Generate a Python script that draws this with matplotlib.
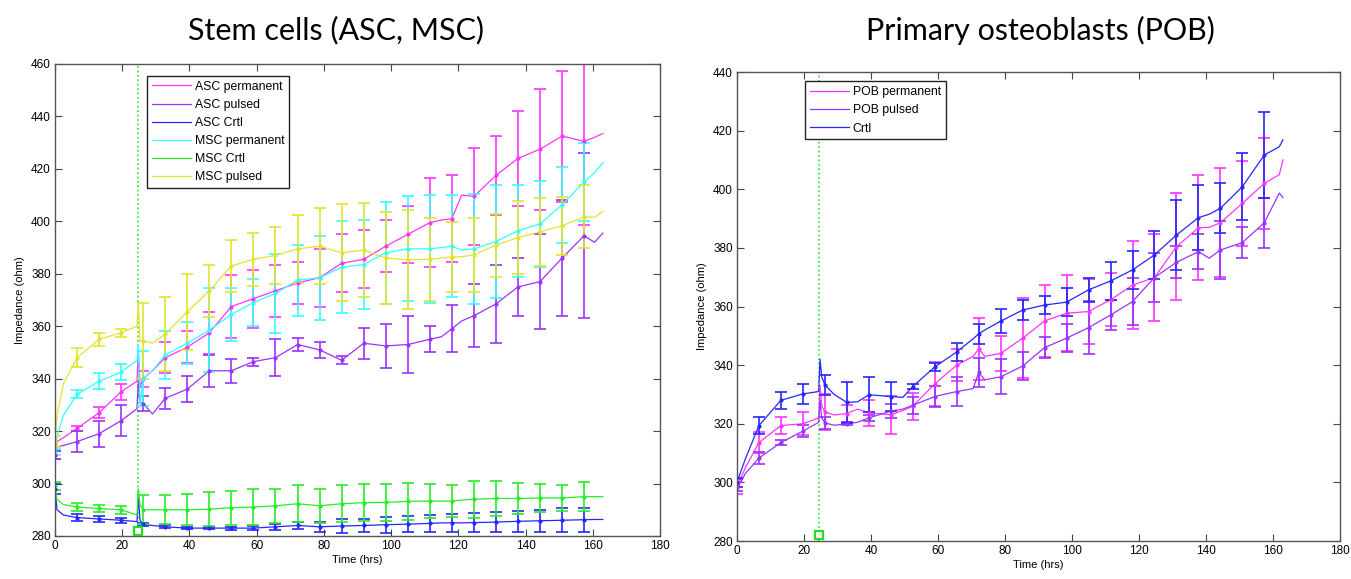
import numpy as np
import matplotlib
matplotlib.use('Agg')
import matplotlib.pyplot as plt

plt.rcParams['font.family'] = ['Liberation Sans', 'DejaVu Sans']

# time points where the error bars sit (both panels)
t_err = [0, 6.56, 13.12, 19.68, 26.24, 32.8, 39.36, 45.92, 52.48, 59.04, 65.6, 72.16,
         78.72, 85.28, 91.84, 98.4, 104.96, 111.52, 118.08, 124.64, 131.2, 137.76,
         144.32, 150.88, 157.44]

# ---- stem cells panel ----
t_left = [0, 0.6, 2.5, 6.56, 13.12, 19.68, 24.4, 24.8, 25.3, 26.24, 29, 32.8, 39.36,
          45.92, 52.48, 59.04, 65.6, 72.16, 78.72, 85.28, 91.84, 98.4, 104.96, 111.52,
          115, 118.08, 121, 124.64, 131.2, 137.76, 144.32, 150.88, 157.44, 160.5, 163]

asc_perm = [311, 316, 317.5, 321, 327, 335, 339, 350, 337, 340, 343, 348, 352, 357.5,
            367.5, 370.5, 373.5, 376.5, 378.5, 384, 385.5, 390.5, 395, 399.5, 400.5, 401,
            410, 409.5, 417.5, 424, 427.5, 432.5, 430.5, 432, 433.5]
asc_puls = [311, 314, 314.5, 316, 319, 324, 328.5, 340, 331, 330.5, 326.5, 332.5, 336,
            343, 343, 346.5, 348, 353, 351, 347, 353.5, 352.5, 353, 355, 356, 359, 362,
            364, 368.5, 375, 377, 386, 394.5, 392, 395.5]
asc_crtl = [298, 290, 288, 287, 286.5, 286, 285.5, 295, 286, 284.5, 284, 283.5, 283, 283,
            283, 283, 283.5, 284, 283.5, 283.8, 284, 284.3, 284.5, 284.8, 285, 285, 285,
            285.1, 285.3, 285.6, 285.8, 286, 286.2, 286.3, 286.3]
msc_perm = [312, 318, 326, 334, 339, 342.5, 347, 353, 330, 340, 343, 349, 353.5, 358.5,
            364.5, 369, 372.5, 377.5, 378.5, 382.5, 383.5, 388, 389.5, 389.5, 390, 390.5,
            389, 389.5, 392.3, 396.4, 399, 406.3, 415, 418.5, 422.3]
msc_crtl = [299, 294, 292, 291, 290.5, 290, 288, 298, 292, 290, 290, 290, 290, 290.2,
            290.8, 291, 291.5, 292.3, 291.5, 292.3, 292.7, 292.8, 293.2, 293.3, 293.3,
            293.3, 293.7, 294, 294.3, 294.3, 294.5, 294.5, 295, 295, 295]
msc_puls = [316, 326, 338, 348, 355, 357.5, 360, 369, 354, 354.5, 353.5, 357, 365.5,
            373.5, 383, 385.5, 387, 389.5, 390.5, 388, 389, 386, 385.3, 385.5, 386, 386.4,
            386.5, 387.2, 390.9, 393.8, 396, 398.3, 401.7, 401.5, 403.8]

err_asc_perm = [1.5, 1, 2, 3, 3, 6, 6, 8, 12, 11, 10, 8, 11, 11, 11, 10, 11, 17, 16.5,
                18.5, 15, 18, 23, 25, 32]
err_asc_puls = [1.5, 4, 5, 6, 3, 4, 5, 6, 4.5, 1.5, 7, 2.5, 3, 1.5, 6, 8.5, 11, 5, 9, 12,
                15, 11, 18, 22, 31.5]
err_asc_crtl = [2, 1.2, 1, 1, 0.6, 0.6, 0.5, 0.5, 0.6, 0.8, 1.2, 1.5, 2, 2.5, 2.5, 3, 3,
                3.2, 3.5, 3.5, 3.8, 4, 4.2, 4.5, 4.5]
err_msc_perm = [1, 1.5, 3, 3, 10.5, 9, 8, 16, 10, 9, 15, 13.5, 16, 17.5, 17, 19.5, 20,
                20.5, 19.5, 21, 21.5, 17.5, 16.5, 14.5, 15]
err_msc_crtl = [1.5, 1.5, 1.5, 1.5, 5.5, 5.5, 6, 6.5, 6.5, 7, 6.5, 7, 6.5, 7, 7, 7, 7,
                6.5, 6, 7, 6.5, 6, 5.5, 5, 5.5]
err_msc_puls = [2, 3.5, 2.5, 1.5, 14.5, 14, 14.5, 10, 10, 10, 11, 13, 14.5, 18.5, 17.8,
                17.7, 18.9, 15.8, 13.5, 14, 12, 14, 13, 11, 12]

# ---- osteoblast panel ----
t_right = [0, 0.6, 2.5, 6.56, 13.12, 19.68, 24.4, 24.8, 25.3, 26.24, 29, 32.8, 36,
           39.36, 45.92, 49.5, 52.48, 59.04, 65.6, 70.5, 72.16, 74, 78.72, 85.28, 91.84,
           98.4, 104.96, 111.52, 118.08, 124.64, 131.2, 137.76, 141, 144.32, 150.88,
           157.44, 161.9, 163]

pob_perm = [298, 300, 305, 313.6, 319.4, 320, 322, 333, 326, 324, 323, 323.5, 325, 323.7,
            323.1, 324.5, 326, 333.6, 340, 343, 345.5, 343, 344, 349.2, 355.1, 357.7,
            358.3, 362.3, 367.3, 369.9, 380.4, 386.9, 387, 388.6, 395.2, 402, 405, 410]
pob_puls = [299, 299, 303, 308.3, 313.6, 317.5, 320.5, 328, 322, 320.3, 319.5, 320, 320.5,
            322, 324.3, 325, 326.3, 329.3, 331, 332, 337.5, 335, 336, 339.7, 346, 349.2,
            352.8, 357.1, 361.7, 369.9, 375.1, 378.7, 376.5, 379.3, 381.8, 388.6, 398.7,
            397.2]
pob_crtl = [300, 302, 308, 319.4, 328, 330.2, 331, 342, 336, 333.3, 330, 327.3, 327.5,
            329.9, 329.3, 329, 332.7, 339.4, 344.5, 349, 350.7, 352, 355, 358.8, 360.5,
            361.5, 365.7, 368.7, 372.5, 377.6, 384.4, 390.3, 391.5, 393.5, 400.9, 411.7,
            414.5, 416.9]

err_pob_perm = [2, 3.5, 3, 4, 6, 3, 4.5, 6.5, 4.6, 7.5, 5.5, 10.5, 6, 13.6, 12.4, 12.9,
                11.2, 9, 15, 15, 18.2, 17.9, 18.5, 14.5, 15.5]
err_pob_puls = [2, 2, 1, 2, 2, 0.5, 1, 2.5, 3, 3.5, 5, 5, 6, 4.8, 3.5, 4.7, 9, 5, 8, 8.2,
                5.5, 6, 10, 5.3, 8.5]
err_pob_crtl = [1.5, 3, 3, 3.5, 3.5, 7, 6, 5, 1, 1.5, 3, 3.5, 4, 3.5, 3, 4.8, 4.2, 6.4,
                6.5, 8.1, 12, 11, 8.5, 11.5, 14.8]

stim_time = 24.6

MAGENTA = '#ff33ff'
PURPLE = '#9933ff'
BLUE = '#2626ff'
CYAN = '#33ffff'
GREEN = '#26ee26'
YELLOW = '#e3e32e'


def draw_series(ax, t_line, vals, errs, color, label):
    t_line = np.array(t_line)
    vals = np.array(vals)
    ax.plot(t_line, vals, color=color, lw=0.9, label=label)
    mask = np.isin(t_line, t_err)
    ax.errorbar(t_line[mask], vals[mask], yerr=errs, fmt='.', color=color, ms=4,
                elinewidth=1.2, capsize=4.3, capthick=1.2)


def style_axes(ax, ymax):
    ax.set_xlim(0, 180)
    ax.set_ylim(280, ymax)
    ax.set_xticks(np.arange(0, 181, 20))
    ax.set_yticks(np.arange(280, ymax + 1, 20))
    ax.tick_params(direction='in', top=True, right=True, labelsize=8.5, length=5,
                   color='#444444', pad=3)
    for s in ax.spines.values():
        s.set_color('#555555')
        s.set_linewidth(1.0)
    ax.set_xlabel('Time (hrs)', fontsize=8, labelpad=2)
    ax.set_ylabel('Impedance (ohm)', fontsize=8, labelpad=4)
    ax.axvline(stim_time, color='#22ee22', ls=':', lw=1.2, zorder=1)
    ax.plot([stim_time], [282], marker='s', ms=6, mfc='white', mec='#22dd22', mew=1.6,
            clip_on=False, zorder=5)


def add_legend(ax, anchor):
    leg = ax.legend(loc='upper left', bbox_to_anchor=anchor, fontsize=8.8,
                    handlelength=3.2, fancybox=False, framealpha=1, edgecolor='#222222',
                    borderpad=0.4, labelspacing=0.5, handletextpad=0.3,
                    borderaxespad=0)
    leg.get_frame().set_linewidth(1.0)


fig = plt.figure(figsize=(13.51, 5.79), dpi=100)

ax1 = fig.add_axes([0.0407, 0.0743, 0.4478, 0.8152])
draw_series(ax1, t_left, asc_perm, err_asc_perm, MAGENTA, 'ASC permanent')
draw_series(ax1, t_left, asc_puls, err_asc_puls, PURPLE, 'ASC pulsed')
draw_series(ax1, t_left, asc_crtl, err_asc_crtl, BLUE, 'ASC Crtl')
draw_series(ax1, t_left, msc_perm, err_msc_perm, CYAN, 'MSC permanent')
draw_series(ax1, t_left, msc_crtl, err_msc_crtl, GREEN, 'MSC Crtl')
draw_series(ax1, t_left, msc_puls, err_msc_puls, YELLOW, 'MSC pulsed')
style_axes(ax1, 460)
add_legend(ax1, (0.152, 0.975))

ax2 = fig.add_axes([0.5455, 0.0656, 0.4463, 0.81])
draw_series(ax2, t_right, pob_perm, err_pob_perm, MAGENTA, 'POB permanent')
draw_series(ax2, t_right, pob_puls, err_pob_puls, PURPLE, 'POB pulsed')
draw_series(ax2, t_right, pob_crtl, err_pob_crtl, BLUE, 'Crtl')
style_axes(ax2, 440)
add_legend(ax2, (0.113, 0.98))

fig.text(336 / 1351, 1 - 30 / 579, 'Stem cells (ASC, MSC)', ha='center', va='center',
         fontsize=22, family=['Lato', 'DejaVu Sans'])
fig.text(1040 / 1351, 1 - 30 / 579, 'Primary osteoblasts (POB)', ha='center',
         va='center', fontsize=22, family=['Lato', 'DejaVu Sans'])

fig.savefig('out.png', dpi=100)
